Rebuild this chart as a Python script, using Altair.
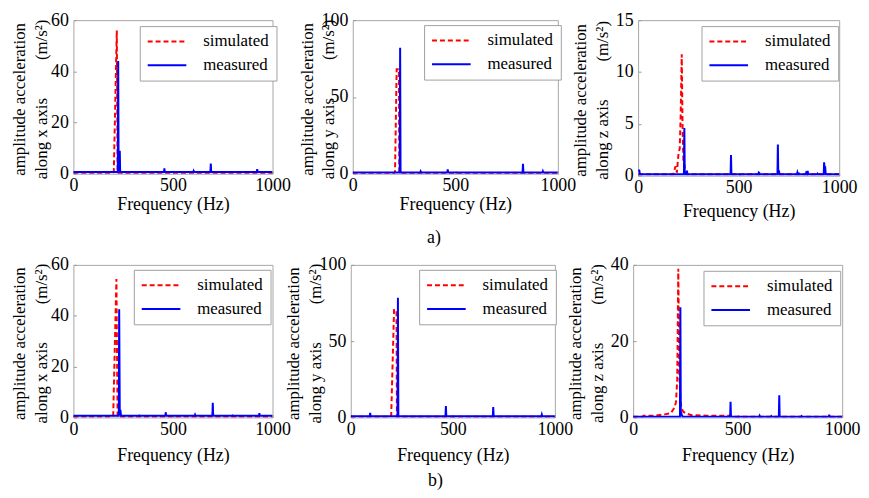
import altair as alt
import pandas as pd

FONT = "Liberation Serif, Times New Roman, Times, DejaVu Serif, serif"
NB = "\u00a0"

freq_ticks = [0, 500, 1000]
series_names = ["simulated", "measured"]

# ---- row a) : [frequency Hz, amplitude] pairs ----
a_x_sim = [[0, 0.3], [198, 0.3], [203, 0.8], [218, 56], [222, 0.3], [1000, 0.3]]
a_x_meas = [[0, 0.7], [223, 0.7], [225, 44], [227, 0.9], [231, 0.9], [233, 9], [235, 0.7],
            [455, 0.7], [457, 2.1], [459, 0.7], [602, 0.7], [604, 1.1], [606, 0.7],
            [688, 0.7], [690, 4.0], [692, 0.7], [921, 0.7], [923, 1.8], [925, 0.7], [1000, 0.7]]

a_y_sim = [[0, 0.5], [203, 0.5], [206, 1], [214, 68], [225, 68], [227, 0.5], [1000, 0.5]]
a_y_meas = [[0, 0.8], [229, 0.8], [231, 82], [233, 0.8], [329, 0.8], [331, 1.5], [333, 0.8],
            [461, 0.8], [463, 2.8], [465, 0.8], [828, 0.8], [830, 6.5], [832, 0.8],
            [925, 0.8], [927, 1.6], [929, 0.8], [1000, 0.8]]

a_z_sim = [[0, 0.15], [175, 0.15], [181, 0.5], [185, 0.9], [189, 0.6], [193, 0.3], [198, 1.5],
           [202, 2.3], [207, 2.6], [212, 6], [217, 11.7], [221, 5], [225, 1.5], [230, 1.0],
           [236, 0.5], [243, 0.15], [1000, 0.15]]
a_z_meas = [[0, 0.5], [6, 0.5], [9, 0.15], [228, 0.15], [230, 4.6], [232, 0.15], [241, 0.15],
            [243, 0.5], [245, 0.15], [460, 0.15], [462, 2.0], [464, 0.15], [598, 0.15],
            [600, 0.3], [603, 0.25], [605, 0.15], [693, 0.15], [695, 3.0], [697, 0.3],
            [700, 0.5], [703, 0.15], [790, 0.15], [792, 0.3], [794, 0.15], [798, 0.15],
            [800, 0.2], [802, 0.15], [833, 0.15], [836, 0.3], [840, 0.2], [843, 0.45],
            [846, 0.15], [890, 0.15], [892, 0.2], [894, 0.15], [923, 0.15], [925, 1.3],
            [928, 0.5], [930, 0.9], [933, 0.15], [1000, 0.15]]

# ---- row b) ----
b_x_sim = [[0, 0.3], [195, 0.3], [200, 0.8], [216, 54.4], [222, 0.3], [1000, 0.3]]
b_x_meas = [[0, 0.7], [228, 0.7], [230, 42.5], [233, 0.9], [236, 3], [239, 0.7],
            [329, 0.7], [331, 0.8], [333, 0.7], [462, 0.7], [464, 2], [466, 0.7],
            [609, 0.7], [611, 1.1], [613, 0.7], [698, 0.7], [700, 5.8], [702, 0.7],
            [798, 0.7], [800, 0.8], [802, 0.7], [932, 0.7], [934, 1.7], [936, 0.7], [1000, 0.7]]

b_y_sim = [[0, 0.5], [194, 0.5], [198, 1], [212, 70.5], [224, 70.5], [226, 0.5], [1000, 0.5]]
b_y_meas = [[0, 0.8], [93, 0.8], [95, 3], [97, 0.8], [229, 0.8], [231, 78.5], [233, 0.8],
            [464, 0.8], [466, 7.4], [468, 0.8], [696, 0.8], [698, 6.8], [700, 0.8],
            [934, 0.8], [936, 1.8], [938, 0.8], [1000, 0.8]]

b_z_sim = [[0, 0.15], [45, 0.15], [50, 0.45], [100, 0.45], [150, 0.8], [180, 1.1], [197, 2.5],
           [205, 4], [211, 10], [216, 39], [221, 12], [226, 4.5], [232, 2.3], [240, 1.5],
           [255, 1.0], [280, 0.6], [350, 0.45], [468, 0.45], [472, 0.15], [1000, 0.15]]
b_z_meas = [[0, 0.2], [224, 0.2], [226, 28.9], [228, 1.5], [232, 0.8], [236, 0.2],
            [464, 0.2], [466, 4.1], [468, 0.2], [603, 0.2], [605, 0.45], [607, 0.2],
            [659, 0.2], [661, 0.35], [663, 0.2], [697, 0.2], [699, 5.8], [701, 0.2],
            [803, 0.2], [805, 0.35], [807, 0.2], [936, 0.2], [938, 0.7], [940, 0.2], [1000, 0.2]]

ticks_60 = [0, 20, 40, 60]
ticks_100 = [0, 50, 100]
ticks_15 = [0, 5, 10, 15]
ticks_40 = [0, 20, 40]

LEG_W = 134


def frame(pairs, name):
    return pd.DataFrame({"f": [p[0] for p in pairs], "a": [p[1] for p in pairs], "series": name})


def panel(sim, meas, ymax, yticks, letter, w, h, title_x1, xtitle_y, leg_right, leg_y):
    x = alt.X("f:Q", scale=alt.Scale(domain=[0, 1000], nice=False, zero=False),
              axis=alt.Axis(values=freq_ticks, title="Frequency (Hz)", format="d",
                            labelFlush=False, labelPadding=3,
                            titleBaseline="middle", titleY=xtitle_y + 3,
                            tickSize=3, offset=-3))
    y = alt.Y("a:Q", scale=alt.Scale(domain=[0, ymax], nice=False),
              axis=alt.Axis(values=yticks, format="d",
                            title=["amplitude acceleration",
                                   f"along {letter} axis" + NB * 9 + "(m/s\u00b2)"],
                            labelPadding=5, titleFontSize=17,
                            titleLineHeight=22, titleBaseline="middle", titleAlign="center",
                            titleAngle=270, titleX=title_x1 - 3, titleY=h / 2 + 2,
                            tickSize=3, offset=-3))
    leg = alt.Legend(title=None, orient="none", legendX=w - LEG_W - leg_right, legendY=leg_y)
    color = alt.Color("series:N", scale=alt.Scale(domain=series_names, range=["#ff0000", "#0000ff"]),
                      legend=leg)
    dash = alt.StrokeDash("series:N", scale=alt.Scale(domain=series_names, range=[[5, 3], [1, 0]]),
                          legend=leg)
    l_sim = alt.Chart(frame(sim, "simulated")).mark_line(strokeWidth=2, clip=True).encode(
        x=x, y=y, color=color, strokeDash=dash)
    l_meas = alt.Chart(frame(meas, "measured")).mark_line(strokeWidth=2, clip=True).encode(
        x=x, y=y, color=color, strokeDash=dash)
    return alt.layer(l_sim, l_meas).properties(width=w, height=h)


row_title = dict(orient="bottom", font=FONT, fontSize=18, fontWeight="normal", color="black",
                 anchor="middle", offset=8)

row_a = alt.hconcat(
    panel(a_x_sim, a_x_meas, 60, ticks_60, "x", 201, 155, -54, 31, 0, 6),
    panel(a_y_sim, a_y_meas, 100, ticks_100, "y", 207, 155, -46, 31, 1, 5),
    panel(a_z_sim, a_z_meas, 15, ticks_15, "z", 203, 157, -58, 36, 5, 6),
    spacing=81, bounds="flush",
    title=alt.Title("a)", **row_title),
).resolve_scale(color="independent", strokeDash="independent").resolve_legend(
    color="independent", strokeDash="independent")

row_b = alt.hconcat(
    panel(b_x_sim, b_x_meas, 60, ticks_60, "x", 201, 154, -54, 38, 6, 5),
    panel(b_y_sim, b_y_meas, 100, ticks_100, "y", 206, 154, -58, 38, 3, 5),
    panel(b_z_sim, b_z_meas, 40, ticks_40, "z", 211, 154, -58, 38, 6, 6),
    spacing=79, bounds="flush",
    title=alt.Title("b)", **row_title),
).resolve_scale(color="independent", strokeDash="independent").resolve_legend(
    color="independent", strokeDash="independent")

chart = alt.vconcat(row_a, row_b, spacing=8).resolve_scale(
    color="independent", strokeDash="independent").resolve_legend(
    color="independent", strokeDash="independent").properties(
    padding={"left": 2, "top": 0, "right": 0, "bottom": 0},
    background="white",
).configure(font=FONT).configure_view(stroke="#a6a6a6", strokeWidth=1).configure_axis(
    labelFont=FONT, labelFontSize=18, labelColor="black", labelFontWeight="normal",
    titleFont=FONT, titleFontSize=18, titleFontWeight="normal", titleColor="black",
    domain=False, grid=False, tickColor="#999999",
).configure_legend(
    fillColor="white", strokeColor="#a0a0a0", padding=7,
    labelFont=FONT, labelFontSize=17, labelColor="black",
    symbolType="M-3,0L3,0", symbolSize=169, symbolStrokeWidth=2,
    symbolOffset=12, labelOffset=28, rowPadding=6,
).configure_title(font=FONT, fontWeight="normal")

chart.save("out.html", embed_options={"renderer": "svg", "actions": False})
